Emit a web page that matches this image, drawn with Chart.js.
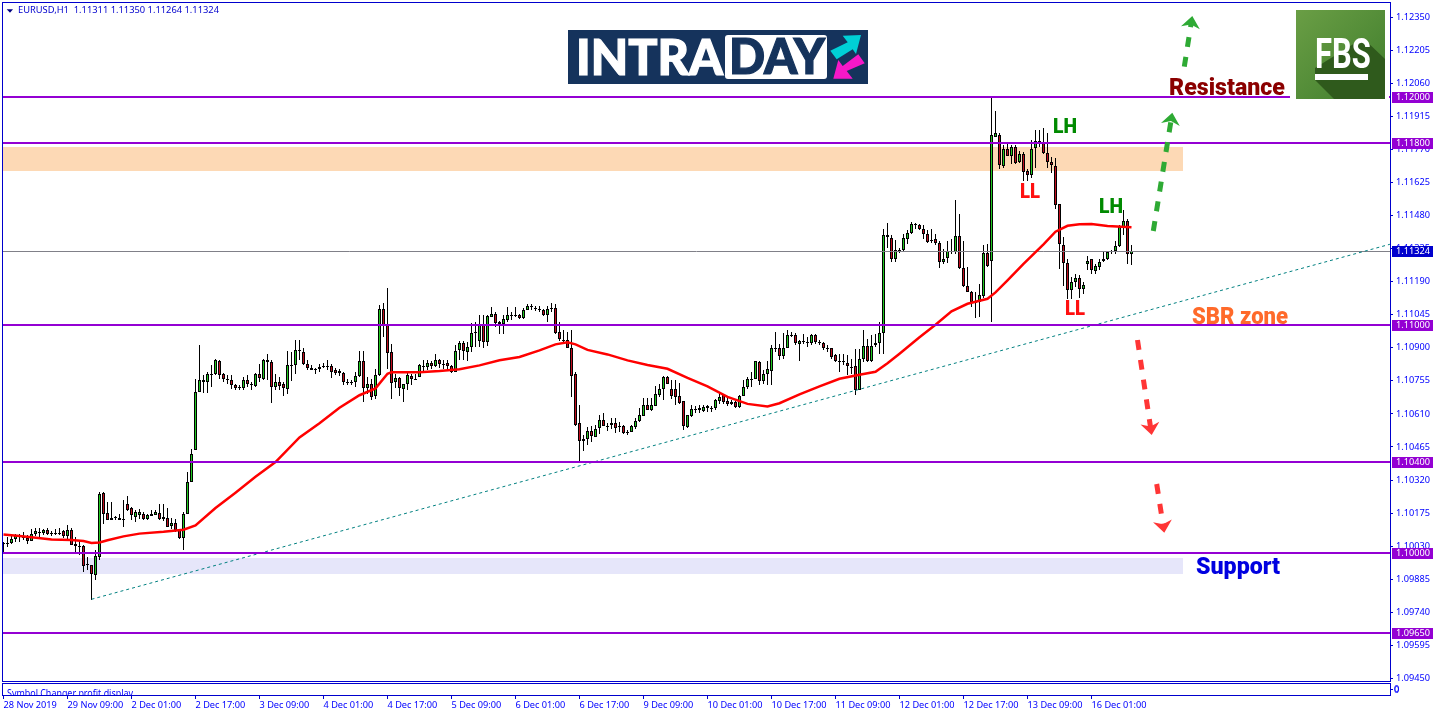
<!DOCTYPE html>
<html>
<head>
<meta charset="utf-8">
<title>EURUSD H1</title>
<script src="https://cdn.jsdelivr.net/npm/chart.js@4/dist/chart.umd.min.js"></script>
<style>
html, body { margin: 0; padding: 0; background: #fff; }
canvas { display: block; }
</style>
</head>
<body>
<canvas id="chart" width="1436" height="716"></canvas>
<script>
const opens = [
1.10045,1.10045,1.10044,1.10061,1.10073,1.10071,1.10066,1.10054,1.10082,1.10091,
1.10088,1.10099,1.10086,1.10088,1.10088,1.10095,1.10075,1.10099,1.10041,1.10031,
1.10032,1.09948,1.09946,1.09904,1.09984,1.10265,1.10175,1.10146,1.10155,1.10155,
1.10148,1.10216,1.10197,1.10158,1.10167,1.10170,1.10151,1.10164,1.10168,1.10174,
1.10156,1.10155,1.10119,1.10130,1.10102,1.10066,1.10173,1.10313,1.10453,1.10708,
1.10760,1.10750,1.10786,1.10784,1.10844,1.10787,1.10763,1.10760,1.10738,1.10726,
1.10725,1.10760,1.10741,1.10733,1.10787,1.10763,1.10845,1.10839,1.10728,1.10752,
1.10740,1.10721,1.10825,1.10825,1.10892,1.10883,1.10831,1.10813,1.10806,1.10806,
1.10819,1.10820,1.10822,1.10801,1.10800,1.10791,1.10751,1.10750,1.10749,1.10777,
1.10844,1.10722,1.10743,1.10689,1.10781,1.11072,1.10999,1.10883,1.10749,1.10769,
1.10720,1.10741,1.10778,1.10764,1.10772,1.10818,1.10816,1.10835,1.10820,1.10848,
1.10829,1.10832,1.10820,1.10796,1.10889,1.10921,1.10882,1.10904,1.10968,1.10930,
1.10999,1.10926,1.11035,1.11050,1.11006,1.11006,1.11021,1.11043,1.11041,1.11046,
1.11031,1.11067,1.11082,1.11076,1.11071,1.11067,1.11044,1.11074,1.11076,1.10968,
1.10935,1.10936,1.10901,1.10787,1.10568,1.10502,1.10500,1.10537,1.10509,1.10549,
1.10582,1.10557,1.10560,1.10568,1.10555,1.10559,1.10529,1.10531,1.10553,1.10578,
1.10601,1.10647,1.10628,1.10644,1.10695,1.10721,1.10771,1.10718,1.10718,1.10688,
1.10666,1.10553,1.10601,1.10631,1.10635,1.10623,1.10644,1.10634,1.10634,1.10666,
1.10691,1.10666,1.10661,1.10664,1.10641,1.10689,1.10726,1.10762,1.10764,1.10837,
1.10755,1.10783,1.10799,1.10899,1.10897,1.10865,1.10900,1.10958,1.10955,1.10917,
1.10928,1.10927,1.10923,1.10955,1.10925,1.10923,1.10896,1.10897,1.10867,1.10843,
1.10843,1.10835,1.10816,1.10818,1.10716,1.10851,1.10908,1.10843,1.10912,1.10921,
1.10966,1.11396,1.11383,1.11289,1.11321,1.11327,1.11378,1.11403,1.11442,1.11437,
1.11422,1.11400,1.11372,1.11378,1.11359,1.11276,1.11294,1.11325,1.11320,1.11389,
1.11251,1.11172,1.11146,1.11101,1.11101,1.11127,1.11314,1.11280,1.11824,1.11835,
1.11699,1.11773,1.11741,1.11779,1.11715,1.11751,1.11674,1.11658,1.11776,1.11806,
1.11802,1.11756,1.11716,1.11699,1.11532,1.11352,1.11273,1.11155,1.11190,1.11207,
1.11156,1.11267,1.11291,1.11237,1.11256,1.11280,1.11289,1.11325,1.11324,1.11345,
1.11432,1.11457,1.11311];
const highs = [
1.10048,1.10070,1.10085,1.10085,1.10085,1.10094,1.10078,1.10107,1.10110,1.10110,
1.10107,1.10110,1.10097,1.10107,1.10110,1.10099,1.10121,1.10111,1.10070,1.10056,
1.10034,1.09983,1.09948,1.10012,1.10268,1.10268,1.10224,1.10224,1.10161,1.10173,
1.10231,1.10249,1.10202,1.10187,1.10194,1.10180,1.10173,1.10190,1.10190,1.10214,
1.10214,1.10199,1.10155,1.10151,1.10107,1.10180,1.10355,1.10455,1.10765,1.10911,
1.10779,1.10794,1.10823,1.10850,1.10848,1.10790,1.10779,1.10779,1.10743,1.10735,
1.10772,1.10779,1.10750,1.10790,1.10830,1.10852,1.10871,1.10845,1.10784,1.10772,
1.10750,1.10885,1.10882,1.10933,1.10936,1.10901,1.10848,1.10823,1.10813,1.10828,
1.10834,1.10845,1.10828,1.10813,1.10809,1.10794,1.10762,1.10760,1.10794,1.10885,
1.10885,1.10772,1.10765,1.10809,1.11086,1.11097,1.11164,1.10915,1.10787,1.10772,
1.10743,1.10790,1.10784,1.10787,1.10828,1.10848,1.10848,1.10842,1.10874,1.10851,
1.10848,1.10845,1.10823,1.10911,1.10930,1.10930,1.10926,1.11010,1.11013,1.11043,
1.11043,1.11043,1.11079,1.11057,1.11018,1.11043,1.11079,1.11057,1.11079,1.11050,
1.11076,1.11094,1.11094,1.11082,1.11082,1.11072,1.11082,1.11098,1.11094,1.11013,
1.10980,1.10970,1.10980,1.10795,1.10648,1.10517,1.10553,1.10556,1.10560,1.10604,
1.10612,1.10568,1.10590,1.10590,1.10575,1.10560,1.10541,1.10560,1.10590,1.10634,
1.10682,1.10682,1.10682,1.10732,1.10743,1.10775,1.10775,1.10758,1.10758,1.10746,
1.10667,1.10607,1.10648,1.10644,1.10648,1.10648,1.10648,1.10644,1.10677,1.10696,
1.10696,1.10682,1.10670,1.10666,1.10692,1.10758,1.10772,1.10794,1.10843,1.10843,
1.10802,1.10843,1.10911,1.10970,1.10916,1.10963,1.10977,1.10970,1.10963,1.10933,
1.10960,1.10948,1.10960,1.10960,1.10936,1.10926,1.10911,1.10901,1.10875,1.10875,
1.10874,1.10867,1.10852,1.10896,1.10896,1.10976,1.10940,1.10954,1.10962,1.11013,
1.11422,1.11449,1.11393,1.11374,1.11339,1.11400,1.11415,1.11451,1.11447,1.11444,
1.11440,1.11415,1.11422,1.11397,1.11368,1.11335,1.11368,1.11378,1.11547,1.11488,
1.11368,1.11254,1.11147,1.11144,1.11178,1.11349,1.11354,1.12000,1.11938,1.11842,
1.11788,1.11802,1.11788,1.11788,1.11763,1.11759,1.11685,1.11813,1.11856,1.11854,
1.11865,1.11842,1.11737,1.11732,1.11532,1.11386,1.11288,1.11210,1.11225,1.11218,
1.11188,1.11301,1.11291,1.11269,1.11291,1.11324,1.11324,1.11330,1.11368,1.11437,
1.11506,1.11466,1.11350];
const lows = [
1.10000,1.10026,1.10041,1.10048,1.10048,1.10056,1.10041,1.10053,1.10073,1.10067,
1.10078,1.10078,1.10073,1.10078,1.10078,1.10067,1.10063,1.10034,1.10004,1.09990,
1.09917,1.09924,1.09795,1.09883,1.09971,1.10129,1.10143,1.10143,1.10146,1.10143,
1.10114,1.10184,1.10143,1.10136,1.10151,1.10146,1.10146,1.10161,1.10165,1.10143,
1.10140,1.10114,1.10107,1.10092,1.10061,1.10012,1.10170,1.10311,1.10450,1.10706,
1.10702,1.10702,1.10728,1.10779,1.10765,1.10750,1.10743,1.10721,1.10714,1.10714,
1.10714,1.10728,1.10714,1.10728,1.10750,1.10760,1.10757,1.10658,1.10714,1.10714,
1.10687,1.10696,1.10753,1.10787,1.10848,1.10826,1.10804,1.10801,1.10784,1.10794,
1.10813,1.10804,1.10769,1.10779,1.10775,1.10736,1.10736,1.10739,1.10728,1.10772,
1.10662,1.10699,1.10670,1.10677,1.10775,1.10948,1.10809,1.10677,1.10725,1.10687,
1.10662,1.10717,1.10736,1.10757,1.10772,1.10794,1.10801,1.10809,1.10816,1.10813,
1.10809,1.10801,1.10790,1.10793,1.10848,1.10845,1.10842,1.10882,1.10904,1.10904,
1.10901,1.10907,1.11035,1.10991,1.10962,1.10959,1.11013,1.11024,1.11035,1.11028,
1.11028,1.11065,1.11067,1.11062,1.11057,1.11040,1.11013,1.11057,1.10962,1.10930,
1.10918,1.10898,1.10684,1.10556,1.10400,1.10448,1.10473,1.10487,1.10509,1.10524,
1.10556,1.10536,1.10546,1.10527,1.10531,1.10524,1.10517,1.10531,1.10546,1.10575,
1.10600,1.10629,1.10623,1.10644,1.10685,1.10673,1.10743,1.10677,1.10648,1.10655,
1.10539,1.10550,1.10597,1.10615,1.10612,1.10619,1.10619,1.10619,1.10629,1.10655,
1.10653,1.10644,1.10648,1.10638,1.10638,1.10688,1.10721,1.10729,1.10761,1.10736,
1.10743,1.10736,1.10736,1.10882,1.10848,1.10853,1.10897,1.10948,1.10911,1.10843,
1.10916,1.10904,1.10911,1.10916,1.10911,1.10892,1.10882,1.10853,1.10838,1.10794,
1.10823,1.10779,1.10786,1.10691,1.10713,1.10837,1.10837,1.10837,1.10903,1.10874,
1.10874,1.11337,1.11276,1.11276,1.11316,1.11320,1.11354,1.11400,1.11422,1.11418,
1.11378,1.11359,1.11359,1.11349,1.11250,1.11266,1.11272,1.11313,1.11313,1.11247,
1.11166,1.11144,1.11079,1.11032,1.11035,1.11120,1.11254,1.11013,1.11824,1.11685,
1.11690,1.11740,1.11704,1.11707,1.11710,1.11631,1.11631,1.11646,1.11690,1.11780,
1.11751,1.11690,1.11666,1.11510,1.11247,1.11169,1.11115,1.11115,1.11166,1.11120,
1.11134,1.11240,1.11225,1.11225,1.11240,1.11276,1.11283,1.11313,1.11313,1.11342,
1.11393,1.11269,1.11264];
const closes = [
1.10046,1.10046,1.10063,1.10073,1.10074,1.10070,1.10053,1.10085,1.10098,1.10092,
1.10102,1.10085,1.10087,1.10089,1.10089,1.10075,1.10099,1.10037,1.10031,1.10030,
1.09944,1.09950,1.09909,1.09985,1.10260,1.10173,1.10146,1.10155,1.10157,1.10146,
1.10150,1.10190,1.10167,1.10180,1.10181,1.10151,1.10165,1.10173,1.10178,1.10149,
1.10149,1.10116,1.10130,1.10102,1.10066,1.10173,1.10313,1.10436,1.10708,1.10760,
1.10749,1.10787,1.10784,1.10848,1.10781,1.10763,1.10764,1.10737,1.10724,1.10727,
1.10760,1.10740,1.10740,1.10787,1.10768,1.10848,1.10838,1.10728,1.10752,1.10733,
1.10725,1.10826,1.10823,1.10892,1.10886,1.10828,1.10810,1.10804,1.10807,1.10816,
1.10820,1.10818,1.10794,1.10788,1.10788,1.10752,1.10750,1.10751,1.10778,1.10844,
1.10725,1.10743,1.10684,1.10782,1.11072,1.10999,1.10877,1.10746,1.10769,1.10725,
1.10743,1.10782,1.10763,1.10765,1.10823,1.10816,1.10835,1.10819,1.10848,1.10828,
1.10828,1.10819,1.10796,1.10888,1.10921,1.10886,1.10904,1.10967,1.10970,1.10999,
1.10926,1.11038,1.11050,1.11009,1.11012,1.11028,1.11043,1.11042,1.11046,1.11031,
1.11067,1.11082,1.11080,1.11074,1.11069,1.11044,1.11072,1.11076,1.10965,1.10939,
1.10933,1.10901,1.10775,1.10560,1.10492,1.10492,1.10537,1.10512,1.10546,1.10582,
1.10556,1.10558,1.10572,1.10549,1.10556,1.10527,1.10530,1.10555,1.10578,1.10607,
1.10647,1.10629,1.10647,1.10696,1.10721,1.10771,1.10743,1.10688,1.10685,1.10658,
1.10556,1.10604,1.10632,1.10632,1.10626,1.10639,1.10635,1.10635,1.10670,1.10686,
1.10663,1.10655,1.10655,1.10641,1.10688,1.10726,1.10762,1.10760,1.10840,1.10755,
1.10784,1.10805,1.10897,1.10901,1.10865,1.10901,1.10958,1.10957,1.10922,1.10932,
1.10929,1.10925,1.10955,1.10926,1.10926,1.10897,1.10897,1.10860,1.10844,1.10842,
1.10841,1.10820,1.10815,1.10716,1.10852,1.10908,1.10842,1.10908,1.10922,1.10966,
1.11396,1.11387,1.11289,1.11330,1.11330,1.11383,1.11402,1.11444,1.11440,1.11422,
1.11399,1.11364,1.11373,1.11359,1.11276,1.11291,1.11326,1.11323,1.11389,1.11251,
1.11172,1.11144,1.11099,1.11103,1.11130,1.11317,1.11259,1.11835,1.11840,1.11702,
1.11773,1.11741,1.11779,1.11712,1.11751,1.11671,1.11658,1.11773,1.11807,1.11804,
1.11756,1.11715,1.11702,1.11525,1.11356,1.11272,1.11155,1.11190,1.11207,1.11158,
1.11177,1.11282,1.11240,1.11257,1.11277,1.11291,1.11321,1.11326,1.11348,1.11432,
1.11454,1.11313,1.11324];

// moving average, by bar number
const maBars = [0,4,7,12,17,20,22,24,26,30,34,40,45,48,53,58,63,68,74,79,84,89,93,96,97,104,109,114,119,124,129,134,138,141,143,146,151,156,161,166,171,176,181,186,191,194,199,204,209,214,218,221,224,229,233,237,241,246,248,251,255,260,263,266,269,272,276,282];
const maValues = [1.10081,1.10075,1.10069,1.10059,1.10057,1.10053,1.10044,1.10046,1.10056,1.10073,1.10085,1.10093,1.10102,1.10121,1.10197,1.10264,1.10334,1.10399,1.10507,1.10569,1.10637,1.10692,1.10722,1.10786,1.10793,1.10793,1.10798,1.10806,1.10823,1.10845,1.10860,1.10889,1.10915,1.10924,1.10915,1.10891,1.10871,1.10845,1.10825,1.10808,1.10768,1.10731,1.10685,1.10654,1.10643,1.10657,1.10696,1.10731,1.10764,1.10782,1.10795,1.10832,1.10874,1.10946,1.11001,1.11060,1.11093,1.11115,1.11143,1.11196,1.11268,1.11354,1.11409,1.11435,1.11442,1.11443,1.11434,1.11429];

const levels = [1.12, 1.118, 1.11, 1.104, 1.1, 1.0965];
const lastPrice = 1.11324;
const trendBars = [22, 346.6];
const trendValues = [1.09797, 1.11354];
const orangeZone = [1.11782, 1.11675];
const supportZone = [1.09977, 1.09907];
const zoneEndBar = 294.8;

const yTicks = [1.1235,1.12205,1.1206,1.11915,1.1177,1.11625,1.1148,1.11335,1.1119,1.11045,1.109,1.10755,1.1061,1.10465,1.1032,1.10175,1.1003,1.09885,1.0974,1.09595,1.0945];
const xTickBars = [0,16,32,48,64,80,96,112,128,144,160,176,192,208,224,240,256,272];
const xTickLabels = ['28 Nov 2019','29 Nov 09:00','2 Dec 01:00','2 Dec 17:00','3 Dec 09:00','4 Dec 01:00','4 Dec 17:00','5 Dec 09:00','6 Dec 01:00','6 Dec 17:00','9 Dec 09:00','10 Dec 01:00','10 Dec 17:00','11 Dec 09:00','12 Dec 01:00','12 Dec 17:00','13 Dec 09:00','16 Dec 01:00'];

const BLUE = '#0000cd';
const TEXT_BLUE = '#0000ff';
const PURPLE = '#9400d3';
const UP = '#20c820';
const DOWN = '#c00d1e';
const AXIS_FONT = 'Noto Sans';

const wickData = opens.map((o, i) => ({ x: i, y: [lows[i], highs[i]] }));
const bodyData = opens.map((o, i) => ({ x: i, y: [o, closes[i]] }));
const bodyColors = opens.map((o, i) => closes[i] >= o ? UP : DOWN);

// MT4 style hard edges on the candles and horizontal lines
const snapMarks = {
    id: 'snapMarks',
    beforeDatasetsDraw(chart) {
        chart.data.datasets.forEach((ds, n) => {
            const meta = chart.getDatasetMeta(n);
            if (ds.type === 'bar') {
                meta.data.forEach(el => {
                    el.y = Math.round(el.y);
                    el.base = Math.round(el.base);
                    if (el.y === el.base) el.base = el.y + 1;
                });
            } else if (ds.label === 'last') {
                meta.data.forEach(el => { el.y = Math.floor(el.y) + 0.5; });
            } else if (ds.label.startsWith('level')) {
                meta.data.forEach(el => { el.y = Math.round(el.y); });
            }
        });
    }
};

const zones = {
    id: 'zones',
    beforeDatasetsDraw(chart) {
        const { ctx, chartArea, scales: { x, y } } = chart;
        const right = Math.round(x.getPixelForValue(zoneEndBar));
        const box = (z, color) => {
            const top = Math.round(y.getPixelForValue(z[0]));
            ctx.fillStyle = color;
            ctx.fillRect(chartArea.left, top, right - chartArea.left, Math.round(y.getPixelForValue(z[1])) - top);
        };
        box(orangeZone, '#fdd9b5');
        box(supportZone, '#e6e6fa');
    }
};

function dashedArrow(ctx, x0, y0, x1, y1, color) {
    const ang = Math.atan2(y1 - y0, x1 - x0);
    ctx.save();
    ctx.strokeStyle = color;
    ctx.lineWidth = 5;
    ctx.setLineDash([10, 10]);
    ctx.beginPath();
    ctx.moveTo(x0, y0);
    ctx.lineTo(x1 - 8 * Math.cos(ang), y1 - 8 * Math.sin(ang));
    ctx.stroke();
    ctx.translate(x1, y1);
    ctx.rotate(ang + Math.PI / 2);
    ctx.fillStyle = color;
    ctx.beginPath();
    ctx.moveTo(0, 0);
    ctx.lineTo(-9.5, 12);
    ctx.lineTo(0, 8.5);
    ctx.lineTo(9.5, 12);
    ctx.closePath();
    ctx.fill();
    ctx.restore();
}

function poly(ctx, pts, color) {
    ctx.fillStyle = color;
    ctx.beginPath();
    pts.forEach((p, i) => i ? ctx.lineTo(p[0], p[1]) : ctx.moveTo(p[0], p[1]));
    ctx.closePath();
    ctx.fill();
}

function drawIntraday(ctx) {
    ctx.fillStyle = '#15335c';
    ctx.fillRect(568, 30, 300, 54);
    ctx.fillStyle = '#fff';
    ctx.beginPath();
    ctx.roundRect(725, 35, 102, 44, 3);
    ctx.fill();
    ctx.textAlign = 'left';
    ctx.textBaseline = 'alphabetic';
    ctx.font = '900 49px Lato';
    ctx.lineWidth = 1.2;
    ctx.fillStyle = '#fff';
    ctx.strokeStyle = '#fff';
    ctx.fillText('INTRA', 576, 75, 147);
    ctx.strokeText('INTRA', 576, 75, 147);
    ctx.fillStyle = '#15335c';
    ctx.strokeStyle = '#15335c';
    ctx.fillText('DAY', 729, 74, 96);
    ctx.strokeText('DAY', 729, 74, 96);
    poly(ctx, [[861,35],[842.7,35.7],[847.7,42.3],[830.3,50.7],[836.7,59.3],[852.7,49.3],[856,54]], '#00d0d6');
    poly(ctx, [[833.3,78.7],[852.7,78.7],[846.7,71],[864.7,63.3],[858.3,54.3],[842.7,66],[838.3,60]], '#f618c8');
}

function drawFbs(ctx) {
    ctx.fillStyle = '#fff';
    ctx.fillRect(1290, 90, 99, 12);
    const g = ctx.createLinearGradient(1296, 10, 1385, 99);
    g.addColorStop(0, '#6a9e45');
    g.addColorStop(1, '#3f7d2c');
    ctx.fillStyle = g;
    ctx.fillRect(1296, 10, 89, 89);
    poly(ctx, [[1363,38],[1385,59],[1385,99],[1334,99],[1315,80],[1315,68]], '#2f5a1c');
    ctx.save();
    ctx.translate(1315, 68);
    ctx.scale(0.72, 1);
    ctx.fillStyle = '#fff';
    ctx.font = 'bold 43px Roboto';
    ctx.textAlign = 'left';
    ctx.textBaseline = 'alphabetic';
    ctx.fillText('FBS', 0, 0);
    ctx.restore();
    ctx.fillStyle = '#fff';
    ctx.fillRect(1315, 74, 53, 6);
}

const overlay = {
    id: 'overlay',
    afterDraw(chart) {
        const { ctx, scales: { x, y } } = chart;
        ctx.save();

        // frames of main window and indicator window
        ctx.strokeStyle = BLUE;
        ctx.lineWidth = 1;
        ctx.strokeRect(2.5, 2.5, 1388, 679);
        ctx.strokeRect(2.5, 683.5, 1388, 12);
        ctx.beginPath();
        xTickBars.forEach(b => {
            const px = Math.floor(x.getPixelForValue(b)) + 0.5;
            ctx.moveTo(px, 695);
            ctx.lineTo(px, 699);
        });
        ctx.moveTo(1391, 689.5);
        ctx.lineTo(1393, 689.5);
        ctx.stroke();

        // indicator window text, cut off by its frame
        ctx.save();
        ctx.beginPath();
        ctx.rect(3, 684, 1387, 11);
        ctx.clip();
        ctx.fillStyle = TEXT_BLUE;
        ctx.font = '10px ' + AXIS_FONT;
        ctx.textAlign = 'left';
        ctx.textBaseline = 'alphabetic';
        ctx.fillText('Symbol Changer profit display', 7, 697, 126);
        ctx.restore();
        ctx.fillStyle = TEXT_BLUE;
        ctx.font = '9.2px ' + AXIS_FONT;
        ctx.textBaseline = 'middle';
        ctx.fillText('0', 1394, 689);
        ctx.fillText('0', 1394, 690);

        // header
        poly(ctx, [[6.7,9.3],[13,9.3],[10,12.7]], '#000080');
        ctx.fillStyle = BLUE;
        ctx.font = '9.5px ' + AXIS_FONT;
        ctx.textBaseline = 'middle';
        ctx.fillText('EURUSD,H1  1.11311 1.11350 1.11264 1.11324', 18, 10.5, 201);

        // price tags
        const tag = (v, color) => {
            const py = Math.round(y.getPixelForValue(v));
            ctx.fillStyle = color;
            ctx.fillRect(1392, py - 5, 41, 11);
            ctx.fillStyle = '#fff';
            ctx.textAlign = 'left';
            ctx.textBaseline = 'middle';
            ctx.font = '9.2px ' + AXIS_FONT;
            ctx.fillText(v.toFixed(5), 1396, py + 0.5);
        };
        levels.forEach(v => tag(v, PURPLE));
        tag(lastPrice, BLUE);

        // arrows
        dashedArrow(ctx, 1153.3, 231, 1172.3, 112.7, '#2eaa34');
        dashedArrow(ctx, 1184.3, 66.7, 1192.3, 16, '#2eaa34');
        dashedArrow(ctx, 1137.5, 340, 1151.7, 435, '#ff3535');
        dashedArrow(ctx, 1156.7, 484, 1164.3, 532.7, '#ff3535');

        // labels
        const label = (txt, px, py, color, size, w) => {
            ctx.fillStyle = color;
            ctx.font = '900 ' + size + 'px Roboto';
            ctx.textAlign = 'left';
            ctx.textBaseline = 'alphabetic';
            ctx.fillText(txt, px, py, w);
        };
        label('Resistance', 1169, 95, '#8b0000', 24, 116);
        label('SBR zone', 1192, 324, '#ff6a2a', 23, 96);
        label('Support', 1196, 574, '#0000e0', 24, 84);
        label('LH', 1053, 133, '#008a00', 20, 24);
        label('LH', 1099, 213, '#008a00', 20, 24);
        label('LL', 1020, 198, '#ff1010', 20, 20);
        label('LL', 1065, 315, '#ff1010', 20, 20);

        drawIntraday(ctx);
        drawFbs(ctx);
        ctx.restore();
    }
};

const datasets = [
    {
        type: 'bar', label: 'wick', data: wickData, order: 6,
        backgroundColor: '#000', borderWidth: 0, barThickness: 1, grouped: false, inflateAmount: 0
    },
    {
        type: 'bar', label: 'body', data: bodyData, order: 5,
        backgroundColor: bodyColors, borderColor: '#000', borderWidth: 1, borderSkipped: false,
        barThickness: 3, grouped: false, inflateAmount: 0
    },
    {
        type: 'line', label: 'last', order: 4, borderColor: '#808088', borderWidth: 1, pointRadius: 0,
        data: [{ x: -1, y: lastPrice }, { x: 347, y: lastPrice }]
    },
    {
        type: 'line', label: 'MA', order: 3, borderColor: '#ff0000', borderWidth: 2.5, pointRadius: 0,
        data: maBars.map((b, i) => ({ x: b, y: maValues[i] }))
    },
    {
        type: 'line', label: 'trend', order: 2, borderColor: '#008080', borderWidth: 1, borderDash: [3, 3], pointRadius: 0,
        data: trendBars.map((b, i) => ({ x: b, y: trendValues[i] }))
    }
];
levels.forEach(v => datasets.push({
    type: 'line', label: 'level ' + v, order: 1, borderColor: PURPLE, borderWidth: 2, pointRadius: 0,
    data: [{ x: -1, y: v }, { x: 347, y: v }]
}));

new Chart(document.getElementById('chart'), {
    data: { datasets: datasets },
    plugins: [snapMarks, zones, overlay],
    options: {
        responsive: false,
        animation: false,
        events: [],
        layout: { padding: { left: 3, top: 2, right: 0, bottom: 0 } },
        plugins: { legend: { display: false }, title: { display: false }, tooltip: { enabled: false } },
        scales: {
            x: {
                type: 'linear',
                offset: false,
                min: -0.125,
                max: 346.625,
                afterFit: s => { s.height = 35; s.paddingLeft = 0; s.paddingRight = 0; },
                afterBuildTicks: s => { s.ticks = xTickBars.map(b => ({ value: b })); },
                grid: { display: false, drawTicks: false, offset: false },
                border: { display: false },
                ticks: {
                    autoSkip: false, maxRotation: 0, minRotation: 0, align: 'start', padding: 19,
                    color: TEXT_BLUE, font: { family: AXIS_FONT, size: 9.2 },
                    callback: v => xTickLabels[xTickBars.indexOf(v)]
                }
            },
            y: {
                type: 'linear',
                position: 'right',
                min: 1.094386,
                max: 1.124167,
                afterFit: s => { s.width = 46; s.paddingTop = 0; s.paddingBottom = 0; },
                afterBuildTicks: s => { s.ticks = yTicks.map(v => ({ value: v })); },
                grid: { drawOnChartArea: false, drawTicks: true, tickLength: 3, tickColor: BLUE },
                border: { display: false },
                ticks: {
                    autoSkip: false, padding: 3,
                    color: TEXT_BLUE, font: { family: AXIS_FONT, size: 9.2 },
                    callback: v => v.toFixed(5)
                }
            }
        }
    }
});
</script>
</body>
</html>
